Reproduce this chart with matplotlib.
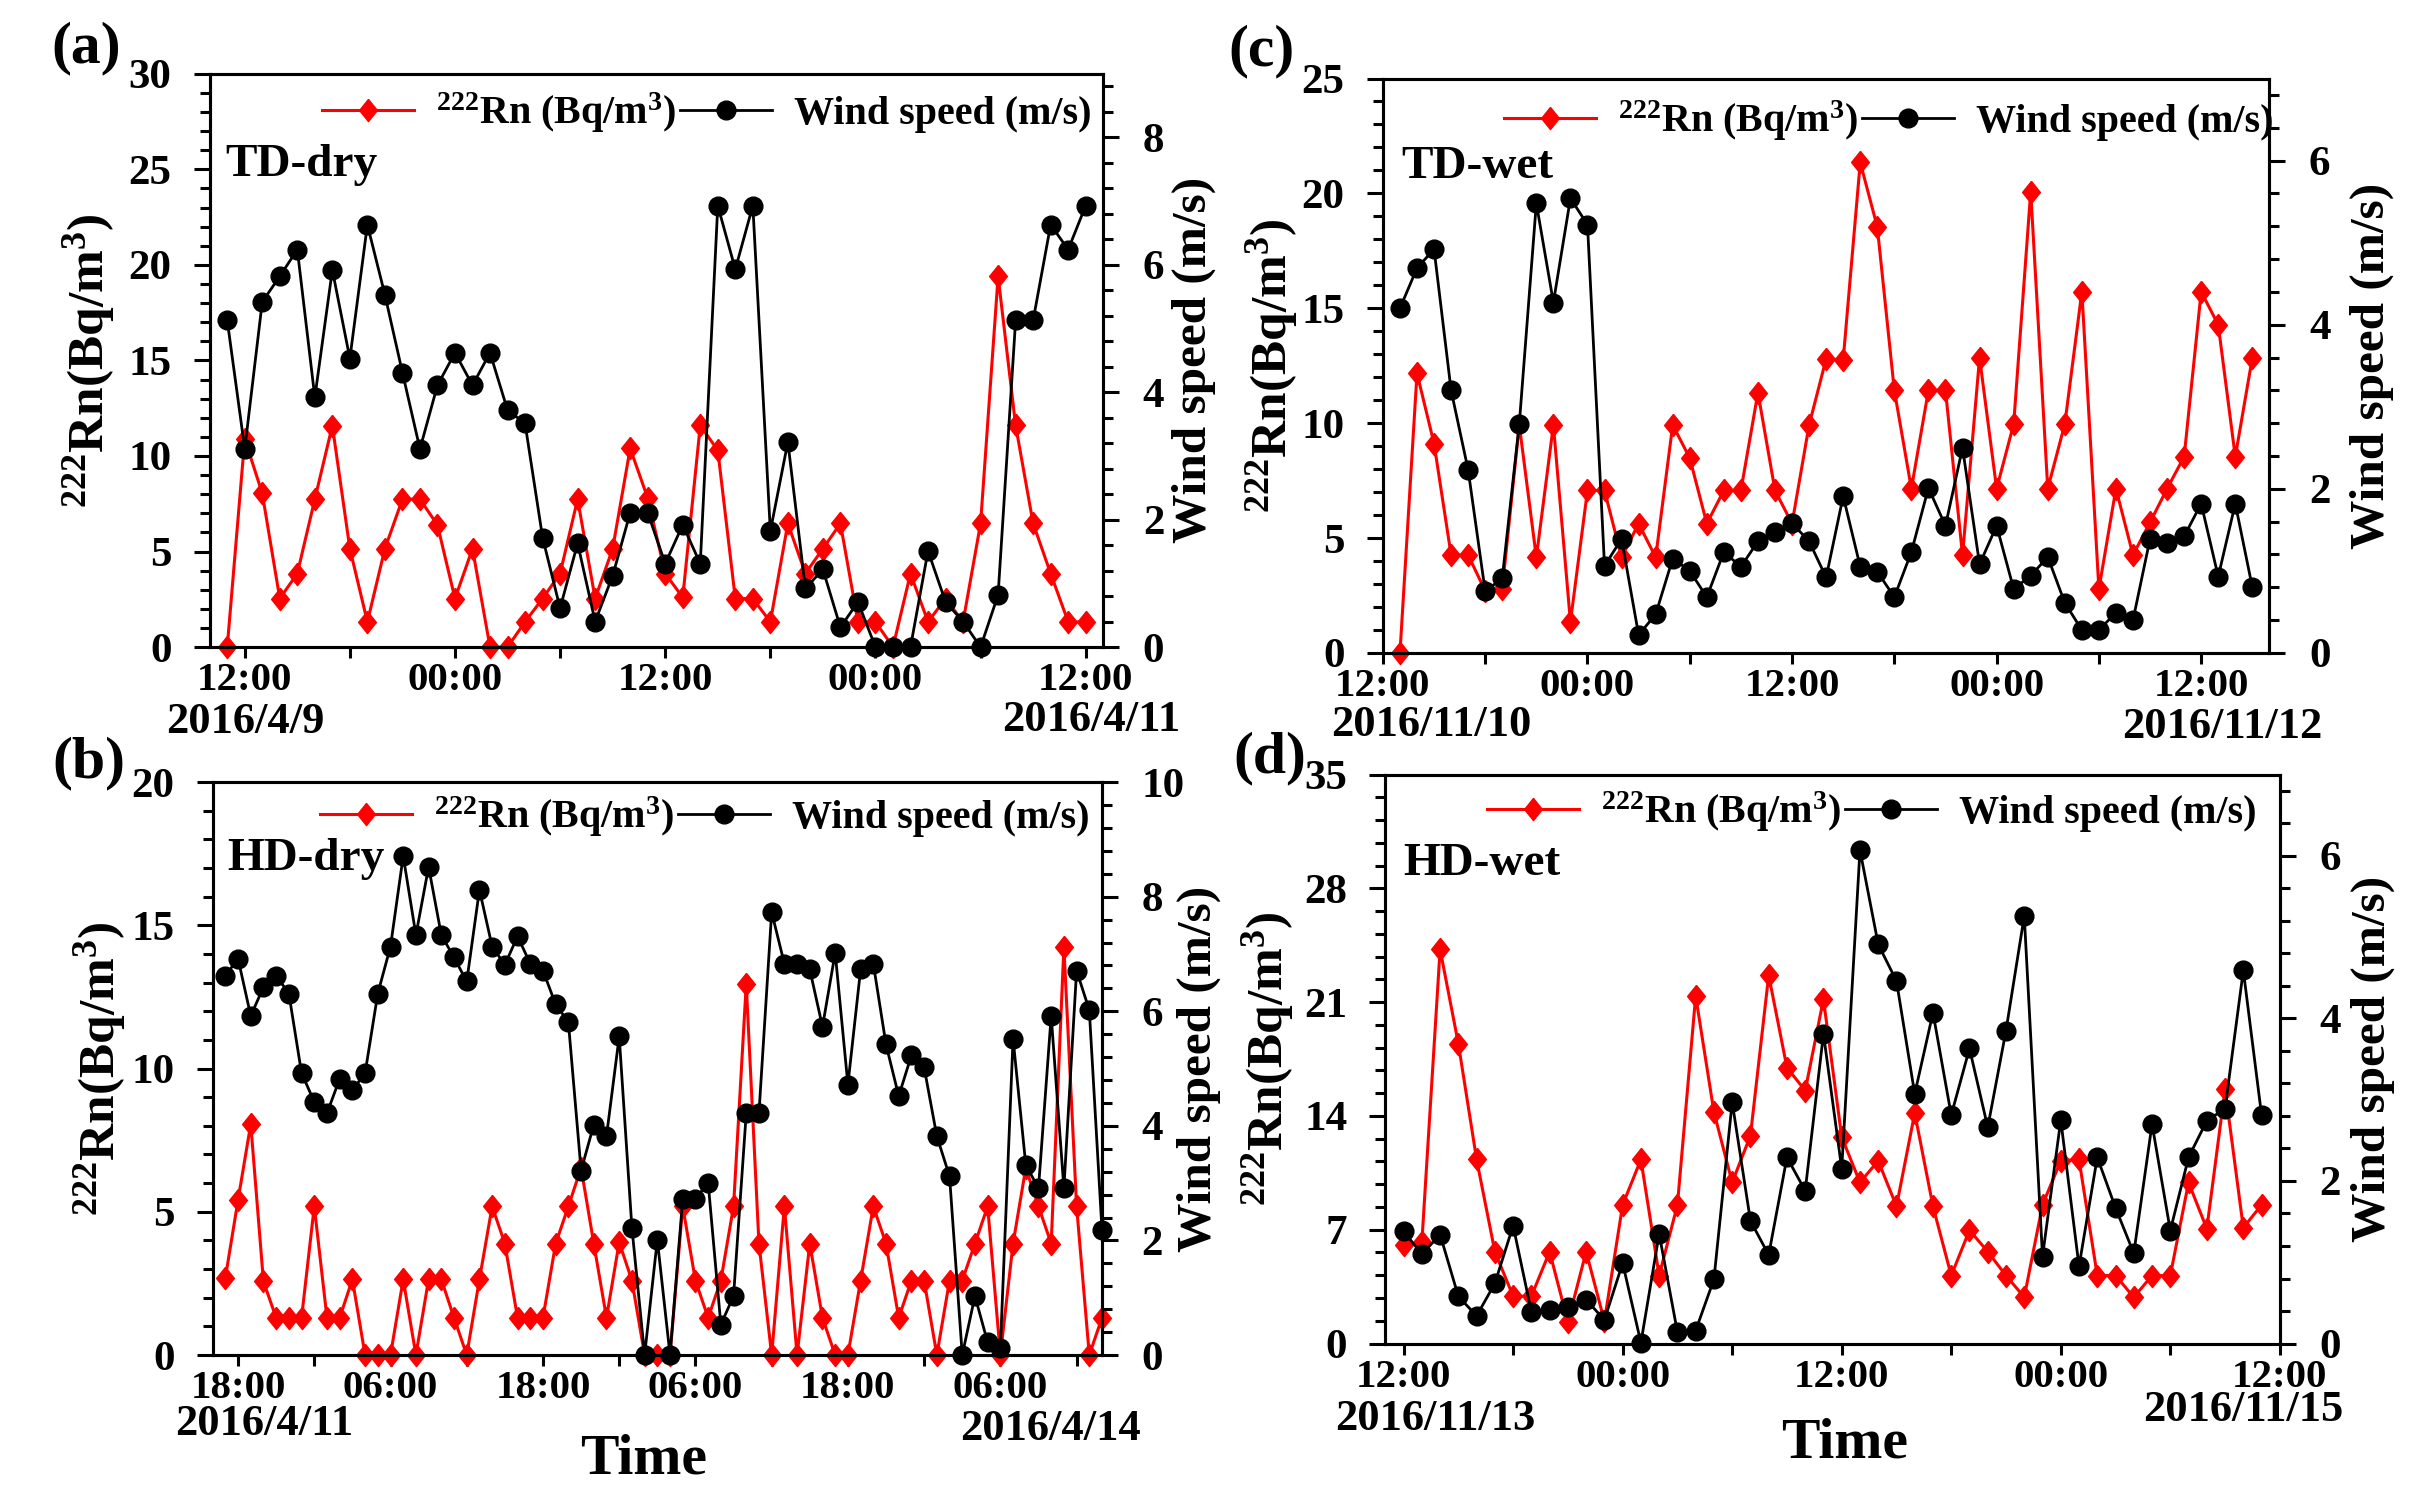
import numpy as np
import pandas as pd
import matplotlib
matplotlib.use('Agg')
import matplotlib.pyplot as plt
import matplotlib.dates as mdates
from matplotlib.ticker import MultipleLocator, FuncFormatter

plt.rcParams['font.family'] = ['Liberation Serif', 'DejaVu Serif']
plt.rcParams['font.weight'] = 'bold'
plt.rcParams['mathtext.fontset'] = 'custom'
plt.rcParams['mathtext.rm'] = 'Liberation Serif:bold'
plt.rcParams['mathtext.it'] = 'Liberation Serif:italic:bold'
plt.rcParams['mathtext.bf'] = 'Liberation Serif:bold'
plt.rcParams['axes.linewidth'] = 2.2

# hourly 222Rn (Bq/m3) and wind speed (m/s) for the four campaigns
rn_a = [0, 10.9, 8.04, 2.54, 3.85, 7.74, 11.59, 5.15, 1.32, 5.15, 7.74, 7.74, 6.39, 2.54, 5.15,
        0, 0, 1.32, 2.54, 3.85, 7.74, 2.54, 5.15, 10.4, 7.8, 3.85, 2.6, 11.6, 10.3, 2.54, 2.54,
        1.32, 6.47, 3.85, 5.15, 6.47, 1.32, 1.32, 0, 3.85, 1.32, 2.54, 1.32, 6.47, 19.4, 11.6,
        6.47, 3.85, 1.32, 1.32]
ws_a = [5.13, 3.11, 5.42, 5.82, 6.24, 3.92, 5.92, 4.53, 6.63, 5.53, 4.31, 3.11, 4.11, 4.62, 4.11,
        4.62, 3.72, 3.51, 1.72, 0.61, 1.63, 0.40, 1.12, 2.11, 2.11, 1.31, 1.92, 1.31, 6.93, 5.93,
        6.93, 1.82, 3.22, 0.92, 1.22, 0.31, 0.71, 0, 0, 0, 1.51, 0.71, 0.40, 0, 0.82, 5.13, 5.13,
        6.63, 6.24, 6.93]

rn_b = [2.69, 5.41, 8.06, 2.57, 1.30, 1.30, 1.30,
        5.19, 1.30, 1.30, 2.64, 0, 0, 0, 2.64, 0, 2.64, 2.64, 1.30, 0, 2.64, 5.19, 3.89, 1.30,
        1.30, 1.30, 3.89, 5.19, 6.53, 3.89, 1.30,
        3.94, 2.60, 0, 0, 0, 5.19, 2.60, 1.30, 2.60, 5.19, 12.95, 3.89, 0, 5.19, 0, 3.89, 1.30,
        0, 0, 2.60, 5.19, 3.89, 1.30, 2.60,
        2.60, 0, 2.60, 2.60, 3.89, 5.19, 0, 3.89, 6.53, 5.19, 3.89, 14.24, 5.19, 0, 1.30]
ws_b = [6.62, 6.92, 5.92, 6.42, 6.62, 6.31, 4.92,
        4.42, 4.22, 4.82, 4.62, 4.92, 6.31, 7.13, 8.71, 7.33, 8.52, 7.33, 6.94, 6.52, 8.12, 7.13,
        6.81, 7.31, 6.83, 6.71, 6.12, 5.81, 3.22, 4.02, 3.82,
        5.56, 2.22, 0, 2.01, 0, 2.72, 2.72, 3.01, 0.53, 1.03, 4.22, 4.22, 7.73, 6.83, 6.83, 6.73,
        5.73, 7.02, 4.72, 6.73, 6.83, 5.42, 4.52, 5.23,
        5.02, 3.82, 3.12, 0, 1.03, 0.22, 0.12, 5.52, 3.32, 2.91, 5.92, 2.91, 6.71, 6.02, 2.18]

rn_c = [0, 12.17, 9.11, 4.26, 4.26, 2.7, 2.78, 9.92, 4.16, 9.92, 1.35, 7.07, 7.07, 4.16, 5.63,
        4.16, 9.92, 8.48, 5.63, 7.07, 7.07, 11.33, 7.07, 5.63, 9.92, 12.8, 12.76, 21.35, 18.54,
        11.43, 7.15, 11.43, 11.43, 4.26, 12.85, 7.15, 9.96, 20.08, 7.15, 9.96, 15.72, 2.78, 7.15,
        4.26, 5.68, 7.15, 8.54, 15.72, 14.28, 8.54, 12.85]
ws_c = [4.20, 4.69, 4.92, 3.20, 2.23, 0.75, 0.91, 2.79, 5.48, 4.27, 5.54, 5.22, 1.06, 1.39, 0.22,
        0.47, 1.15, 1.00, 0.68, 1.23, 1.05, 1.36, 1.47, 1.58, 1.36, 0.92, 1.91, 1.05, 0.99, 0.68,
        1.23, 2.01, 1.55, 2.50, 1.08, 1.55, 0.78, 0.94, 1.17, 0.61, 0.28, 0.28, 0.49, 0.40, 1.39,
        1.34, 1.42, 1.82, 0.93, 1.82, 0.80]

rn_d = [6.09, 6.24, 24.24, 18.44, 11.32, 5.65, 2.91, 2.91, 5.65, 1.32, 5.65, 1.38, 8.53, 11.32,
        4.18, 8.53, 21.38, 14.24, 9.91, 12.79, 22.65, 16.97, 15.56, 21.18, 12.7, 9.91, 11.24,
        8.44, 14.18, 8.44, 4.18, 6.97, 5.65, 4.18, 2.85, 8.53, 11.24, 11.32, 4.18, 4.18, 2.85,
        4.18, 4.18, 9.91, 7.06, 15.65, 7.12, 8.53]
ws_d = [1.38, 1.10, 1.34, 0.58, 0.34, 0.74, 1.45, 0.39, 0.41, 0.45, 0.54, 0.29, 0.99, 0.01,
        1.35, 0.14, 0.16, 0.79, 2.97, 1.51, 1.09, 2.29, 1.88, 3.81, 2.15, 6.07, 4.91, 4.46, 3.07,
        4.07, 2.81, 3.63, 2.66, 3.85, 5.26, 1.07, 2.75, 0.95, 2.29, 1.67, 1.11, 2.70, 1.39, 2.29,
        2.74, 2.89, 4.59, 2.81]

starts = ['2016-04-09 11:00', '2016-04-11 17:00', '2016-11-10 13:00', '2016-11-13 12:00']
names = ['TD-dry', 'HD-dry', 'TD-wet', 'HD-wet']
letters = ['(a)', '(b)', '(c)', '(d)']

rn_label = r'$^{222}$Rn (Bq/m$^{3}$)'
ws_label = 'Wind speed (m/s)'

diamond = [(0, 1), (0.8, 0), (0, -1), (-0.8, 0), (0, 1)]

fig = plt.figure(figsize=(24.3, 14.9), dpi=100)

panels = [
    dict(rect=[0.0863, 0.5657, 0.3677, 0.3848], xlim=('2016-04-09 10:00', '2016-04-11 13:00'),
         ymax=30, ystep=5, yminor=1, wmax=9, lab_hours=(0, 12),
         dates=[('2016/4/9', '2016-04-09 12:00', 1, 75), ('2016/4/11', '2016-04-11 12:00', 5, 73)],
         leg=(0.556, 0.932), name=(0.017, 0.841), ylx=(-0.135, 1.101), letter=(0.0356, 0.9678)),
    dict(rect=[0.0875, 0.0906, 0.3660, 0.3845], xlim=('2016-04-11 16:00', '2016-04-14 14:00'),
         ymax=20, ystep=5, yminor=1, wmax=10, lab_hours=(6, 18),
         dates=[('2016/4/11', '2016-04-11 18:00', 26, 69), ('2016/4/14', '2016-04-14 06:00', 50, 74)],
         leg=(0.553, 0.94), name=(0.0165, 0.865), ylx=(-0.127, 1.109), letter=(0.0366, 0.4879)),
    dict(rect=[0.5691, 0.5618, 0.3648, 0.3855], xlim=('2016-11-10 12:00', '2016-11-12 16:00'),
         ymax=25, ystep=5, yminor=1, wmax=7, lab_hours=(0, 12),
         dates=[('2016/11/10', '2016-11-10 12:00', 48, 72), ('2016/11/12', '2016-11-12 12:00', 21, 74)],
         leg=(0.571, 0.926), name=(0.021, 0.846), ylx=(-0.125, 1.115), letter=(0.5193, 0.9658)),
    dict(rect=[0.5701, 0.0983, 0.3681, 0.3819], xlim=('2016-11-13 11:00', '2016-11-15 12:00'),
         ymax=35, ystep=7, yminor=1.4, wmax=7, lab_hours=(0, 12),
         dates=[('2016/11/13', '2016-11-13 12:00', 32, 75), ('2016/11/15', '2016-11-15 12:00', -37, 66)],
         leg=(0.544, 0.934), name=(0.0195, 0.842), ylx=(-0.131, 1.104), letter=(0.5226, 0.4913)),
]

rn_all = [rn_a, rn_b, rn_c, rn_d]
ws_all = [ws_a, ws_b, ws_c, ws_d]

for i, p in enumerate(panels):
    rn = rn_all[i]
    ws = ws_all[i]
    t = pd.date_range(starts[i], periods=len(rn), freq='h')

    ax = fig.add_axes(p['rect'])
    ax2 = ax.twinx()

    h1, = ax.plot(t, rn, color='#ff0000', lw=2.2, marker=diamond, ms=16,
                  mec='#ff0000', mfc='#ff0000', clip_on=False)
    h2, = ax2.plot(t, ws, color='black', lw=2.0, marker='o', ms=13.5,
                   mec='black', mfc='black', clip_on=False)

    ax.set_xlim(pd.Timestamp(p['xlim'][0]), pd.Timestamp(p['xlim'][1]))
    ax.set_ylim(0, p['ymax'])
    ax2.set_ylim(0, p['wmax'])

    ax.yaxis.set_major_locator(MultipleLocator(p['ystep']))
    ax.yaxis.set_minor_locator(MultipleLocator(p['yminor']))
    ax2.yaxis.set_major_locator(MultipleLocator(2))
    ax2.yaxis.set_minor_locator(MultipleLocator(0.4))

    ax.xaxis.set_major_locator(mdates.HourLocator(byhour=[0, 6, 12, 18]))
    hours = p['lab_hours']
    ax.xaxis.set_major_formatter(FuncFormatter(
        lambda x, pos, hours=hours: mdates.num2date(x).strftime('%H:%M')
        if mdates.num2date(x).hour in hours else ''))

    ax.tick_params(axis='y', which='major', direction='out', length=11.5, width=2.2,
                   labelsize=31, pad=16)
    ax.tick_params(axis='y', which='minor', direction='out', length=7, width=2.2)
    ax.tick_params(axis='x', which='major', direction='out', length=8, width=2.2,
                   labelsize=29.5, pad=3)
    ax2.tick_params(axis='y', which='major', direction='out', length=11.5, width=2.2,
                    labelsize=31, pad=17)
    ax2.tick_params(axis='y', which='minor', direction='out', length=7, width=2.2)

    ax.text(p['ylx'][0], 0.5, r'$^{222}$Rn(Bq/m$^{3}$)', transform=ax.transAxes,
            rotation=90, ha='center', va='center', fontsize=37, fontweight='bold')
    ax2.text(p['ylx'][1], 0.5, ws_label, transform=ax2.transAxes,
             rotation=90, ha='center', va='center', fontsize=35.5, fontweight='bold')

    ax2.text(p['name'][0], p['name'][1], names[i], transform=ax2.transAxes,
             ha='left', va='center', fontsize=34, fontweight='bold')

    for lab, tt, dx, dy in p['dates']:
        ax.annotate(lab, xy=(mdates.date2num(pd.Timestamp(tt)), 0),
                    xycoords=('data', 'axes fraction'), xytext=(dx, -dy),
                    textcoords='offset pixels', ha='center', va='center',
                    fontsize=32, fontweight='bold', annotation_clip=False)

    ax2.legend([h1, h2], [rn_label, ws_label], loc='center', bbox_to_anchor=p['leg'],
               ncol=2, frameon=False, fontsize=28.8, handlelength=2.3, handletextpad=0.55,
               columnspacing=0.1, borderpad=0, borderaxespad=0)

    fig.text(p['letter'][0], p['letter'][1], letters[i], ha='center', va='center',
             fontsize=43, fontweight='bold')

fig.text(0.265, 0.0114, 'Time', ha='center', va='baseline', fontsize=41.5, fontweight='bold')
fig.text(0.759, 0.0221, 'Time', ha='center', va='baseline', fontsize=41.5, fontweight='bold')

fig.savefig('out.png', dpi=100)
